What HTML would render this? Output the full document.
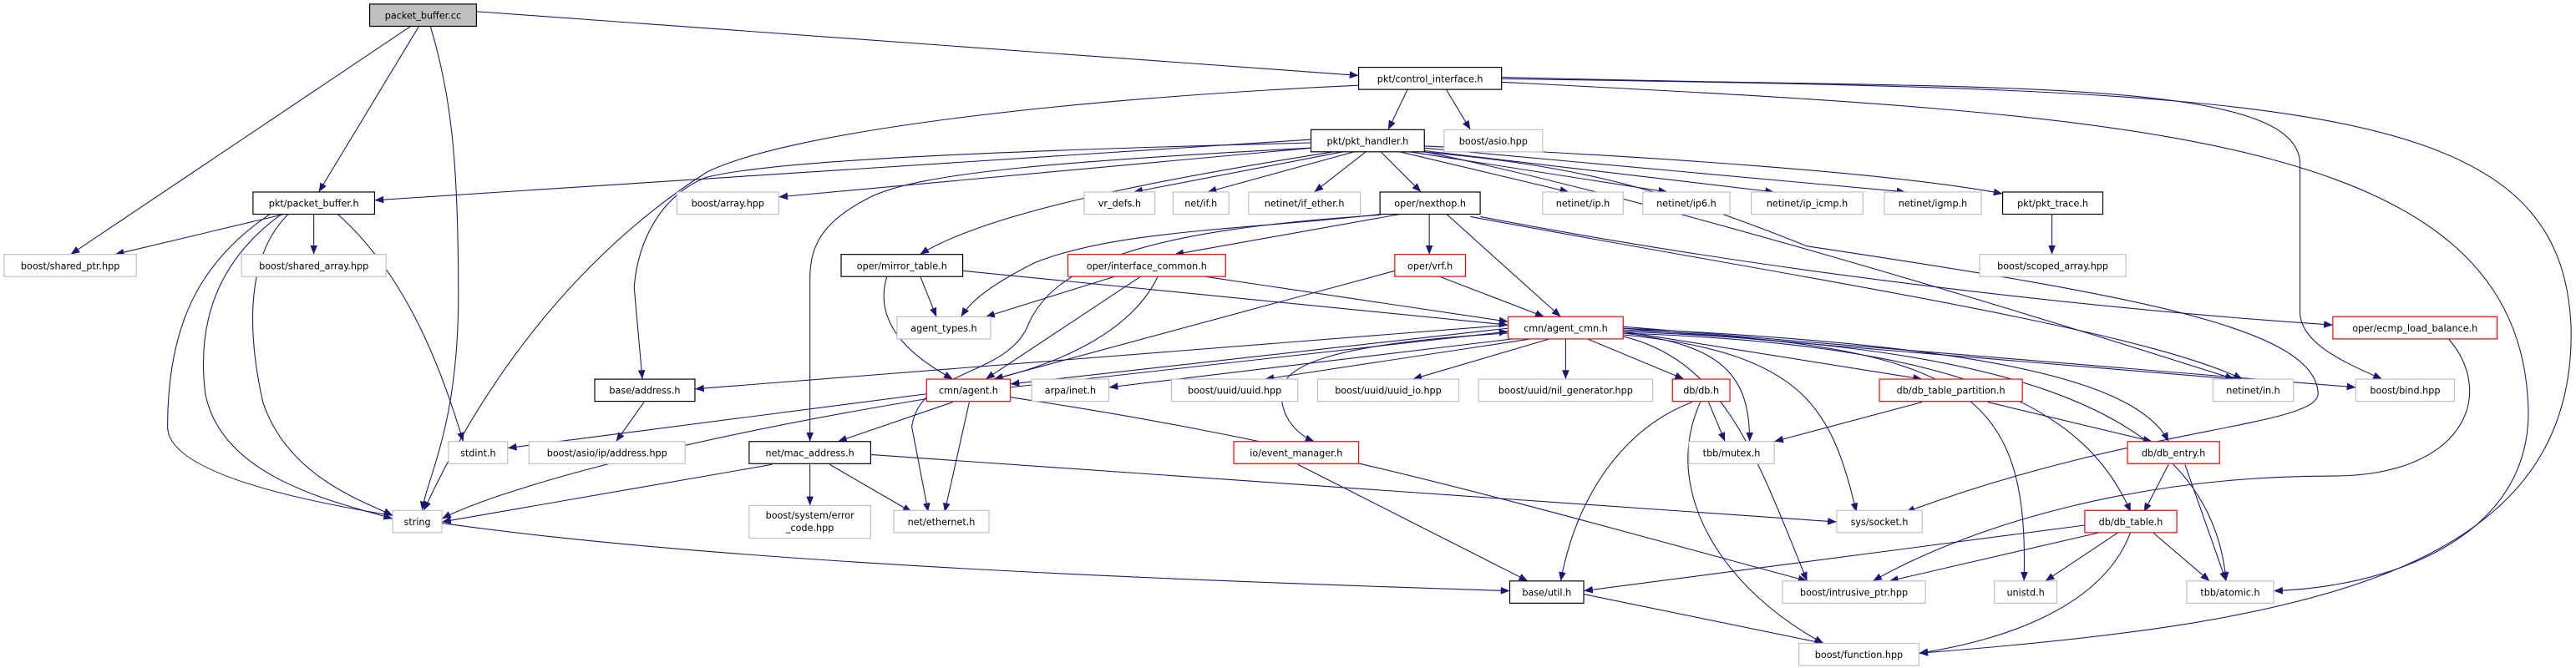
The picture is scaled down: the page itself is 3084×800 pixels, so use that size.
<!DOCTYPE html>
<html><head><meta charset="utf-8"><style>
html,body{margin:0;padding:0;background:#fff;width:3084px;height:800px;overflow:hidden}
svg{display:block}
text{font-family:"DejaVu Sans","Liberation Sans",sans-serif;font-size:5.7px;fill:#000;text-anchor:middle}
.g{fill:#fff;stroke:#bfbfbf;stroke-width:0.6}
.b{fill:#fff;stroke:#000;stroke-width:0.6}
.r{fill:#fff;stroke:#ff0000;stroke-width:0.6}
.e path{fill:none;stroke:#191970;stroke-width:0.55}
</style></head><body>
<svg width="3084" height="800" viewBox="0 0 1568 407" preserveAspectRatio="none">
<defs><marker id="a" markerWidth="5.5" markerHeight="4.4" refX="5.5" refY="2.2" orient="auto" markerUnits="userSpaceOnUse"><path d="M0,0 L5.5,2.2 L0,4.4z" fill="#191970"/></marker></defs>
<g class="e">
<path marker-end="url(#a)" d="M290,7 L827,46"/>
<path marker-end="url(#a)" d="M250,16 L43,155"/>
<path marker-end="url(#a)" d="M255,16 L194,117"/>
<path marker-end="url(#a)" d="M262,16 C275,60 279,100 279,180 C279,260 260,290 257,311"/>
<path marker-end="url(#a)" d="M857,54 L845,79"/>
<path marker-end="url(#a)" d="M880,54 L895,79"/>
<path marker-end="url(#a)" d="M827,52 C650,60 480,80 430,105 C360,150 300,220 258,311"/>
<path marker-end="url(#a)" d="M914,48 C1400,55 1560,60 1565,200 C1568,350 1400,380 1168,398"/>
<path marker-end="url(#a)" d="M914,47 C1200,55 1400,45 1400,100 L1400,190 C1400,210 1430,222 1450,231"/>
<path marker-end="url(#a)" d="M914,50 C1300,70 1535,80 1539,250 C1540,330 1450,358 1384,360"/>
<path marker-end="url(#a)" d="M798,85 L228,122"/>
<path marker-end="url(#a)" d="M800,90 L474,120"/>
<path marker-end="url(#a)" d="M798,87 C600,92 470,98 430,108 C400,120 388,150 386,175 L391,231"/>
<path marker-end="url(#a)" d="M800,90 C650,98 560,105 530,120 C500,135 493,150 493,170 L493,269"/>
<path marker-end="url(#a)" d="M815,92 C700,110 600,130 560,155"/>
<path marker-end="url(#a)" d="M820,92 L690,117"/>
<path marker-end="url(#a)" d="M826,92 L735,117"/>
<path marker-end="url(#a)" d="M832,92 L800,117"/>
<path marker-end="url(#a)" d="M840,92 L865,117"/>
<path marker-end="url(#a)" d="M850,92 L955,117"/>
<path marker-end="url(#a)" d="M855,92 L1015,117"/>
<path marker-end="url(#a)" d="M860,91 L1080,117"/>
<path marker-end="url(#a)" d="M865,90 L1160,117"/>
<path marker-end="url(#a)" d="M867,89 C1000,95 1150,105 1219,118"/>
<path marker-end="url(#a)" d="M860,92 C950,100 1000,110 1100,150 C1300,180 1410,200 1411,240 C1410,260 1300,260 1160,312"/>
<path marker-end="url(#a)" d="M865,92 C1000,120 1200,180 1360,231"/>
<path marker-end="url(#a)" d="M175,130 L70,155"/>
<path marker-end="url(#a)" d="M191,130 L191,155"/>
<path marker-end="url(#a)" d="M172,130 C130,160 120,200 125,240 C135,290 200,305 239,316"/>
<path marker-end="url(#a)" d="M176,130 C150,155 150,200 160,245 C175,290 220,305 239,314"/>
<path marker-end="url(#a)" d="M205,130 C250,170 270,230 282,269"/>
<path marker-end="url(#a)" d="M165,130 C120,160 102,200 102,260 C102,330 600,350 919,360"/>
<path marker-end="url(#a)" d="M1249,130 L1249,155"/>
<path marker-end="url(#a)" d="M855,130 L715,155"/>
<path marker-end="url(#a)" d="M870,130 L870,155"/>
<path marker-end="url(#a)" d="M880,130 L950,193"/>
<path marker-end="url(#a)" d="M845,130 C760,140 680,140 630,160 C600,175 590,185 585,193"/>
<path marker-end="url(#a)" d="M840,131 C700,140 640,160 625,200 C610,230 560,225 555,260 L565,312"/>
<path marker-end="url(#a)" d="M901,132 C1100,170 1300,190 1420,198"/>
<path marker-end="url(#a)" d="M895,132 C1100,170 1300,200 1365,231"/>
<path marker-end="url(#a)" d="M560,168 L570,193"/>
<path marker-end="url(#a)" d="M540,168 C530,200 560,220 580,231"/>
<path marker-end="url(#a)" d="M586,165 L918,198"/>
<path marker-end="url(#a)" d="M680,168 L600,193"/>
<path marker-end="url(#a)" d="M695,168 L600,231"/>
<path marker-end="url(#a)" d="M705,168 C690,200 650,220 605,231"/>
<path marker-end="url(#a)" d="M730,168 L918,196"/>
<path marker-end="url(#a)" d="M875,168 L940,193"/>
<path marker-end="url(#a)" d="M849,165 L605,231"/>
<path marker-end="url(#a)" d="M918,200 L615,234"/>
<path marker-end="url(#a)" d="M925,206 L675,236"/>
<path marker-end="url(#a)" d="M935,206 L770,231"/>
<path marker-end="url(#a)" d="M945,206 L860,231"/>
<path marker-end="url(#a)" d="M953,206 L953,231"/>
<path marker-end="url(#a)" d="M965,206 L1025,231"/>
<path marker-end="url(#a)" d="M918,198 L423,237"/>
<path marker-end="url(#a)" d="M918,203 C800,210 780,225 780,240 C780,255 790,265 800,269"/>
<path marker-end="url(#a)" d="M988,202 L1170,231"/>
<path marker-end="url(#a)" d="M988,200 L1360,231"/>
<path marker-end="url(#a)" d="M988,199 L1434,236"/>
<path marker-end="url(#a)" d="M988,203 C1050,210 1065,230 1065,269"/>
<path marker-end="url(#a)" d="M988,204 C1100,215 1115,250 1130,312"/>
<path marker-end="url(#a)" d="M988,205 C1050,220 1070,280 1100,354"/>
<path marker-end="url(#a)" d="M988,201 C1200,210 1235,240 1232,354"/>
<path marker-end="url(#a)" d="M988,200 C1200,210 1300,230 1320,269"/>
<path marker-end="url(#a)" d="M988,203 C1200,210 1270,250 1297,312"/>
<path marker-end="url(#a)" d="M988,202 C1200,210 1345,240 1355,354"/>
<path marker-end="url(#a)" d="M615,236 L918,202"/>
<path marker-end="url(#a)" d="M564,240 L309,273"/>
<path marker-end="url(#a)" d="M564,243 C400,270 300,300 269,316"/>
<path marker-end="url(#a)" d="M580,245 L510,269"/>
<path marker-end="url(#a)" d="M590,245 L575,312"/>
<path marker-end="url(#a)" d="M615,242 C800,270 900,300 1100,354"/>
<path marker-end="url(#a)" d="M392,245 L375,269"/>
<path marker-end="url(#a)" d="M470,283 L269,318"/>
<path marker-end="url(#a)" d="M493,283 L493,308"/>
<path marker-end="url(#a)" d="M505,283 L555,312"/>
<path marker-end="url(#a)" d="M530,277 L1118,318"/>
<path marker-end="url(#a)" d="M790,283 L930,354"/>
<path marker-end="url(#a)" d="M1040,245 L1050,269"/>
<path marker-end="url(#a)" d="M1030,245 C990,260 960,300 950,354"/>
<path marker-end="url(#a)" d="M1035,245 C1010,300 1050,360 1110,392"/>
<path marker-end="url(#a)" d="M1170,245 L1080,269"/>
<path marker-end="url(#a)" d="M1210,245 L1310,269"/>
<path marker-end="url(#a)" d="M1320,283 L1305,312"/>
<path marker-end="url(#a)" d="M1330,283 L1355,354"/>
<path marker-end="url(#a)" d="M1269,320 L964,360"/>
<path marker-end="url(#a)" d="M1280,324 L1150,354"/>
<path marker-end="url(#a)" d="M1290,324 L1245,354"/>
<path marker-end="url(#a)" d="M1310,324 L1345,354"/>
<path marker-end="url(#a)" d="M1297,324 C1280,370 1220,390 1168,398"/>
<path marker-end="url(#a)" d="M964,362 L1110,392"/>
<path marker-end="url(#a)" d="M1490,206 C1520,240 1500,290 1420,290 C1300,290 1200,320 1140,354"/>
</g>
<g>
<rect x="225" y="2.5" width="65" height="13.5" fill="#bfbfbf" stroke="#000" stroke-width="0.6"/><text x="257.5" y="11.5">packet_buffer.cc</text>
<rect class="b" x="827" y="41" width="87" height="13.5"/><text x="870.5" y="50">pkt/control_interface.h</text>
<rect class="b" x="798" y="79" width="69" height="13.5"/><text x="832.5" y="88">pkt/pkt_handler.h</text>
<rect class="g" x="879" y="79" width="60" height="13.5"/><text x="909" y="88">boost/asio.hpp</text>

<rect class="b" x="154" y="117" width="74" height="13.5"/><text x="191" y="126">pkt/packet_buffer.h</text>
<rect class="g" x="412" y="117" width="62" height="13.5"/><text x="443" y="126">boost/array.hpp</text>
<rect class="g" x="660" y="117" width="43" height="13.5"/><text x="681.5" y="126">vr_defs.h</text>
<rect class="g" x="714" y="117" width="34" height="13.5"/><text x="731" y="126">net/if.h</text>
<rect class="g" x="760" y="117" width="68" height="13.5"/><text x="794" y="126">netinet/if_ether.h</text>
<rect class="b" x="840" y="117" width="61" height="13.5"/><text x="870.5" y="126">oper/nexthop.h</text>
<rect class="g" x="939" y="117" width="49" height="13.5"/><text x="963.5" y="126">netinet/ip.h</text>
<rect class="g" x="1000" y="117" width="53" height="13.5"/><text x="1026.5" y="126">netinet/ip6.h</text>
<rect class="g" x="1066" y="117" width="68" height="13.5"/><text x="1100" y="126">netinet/ip_icmp.h</text>
<rect class="g" x="1147" y="117" width="59" height="13.5"/><text x="1176.5" y="126">netinet/igmp.h</text>
<rect class="b" x="1219" y="117" width="61" height="13.5"/><text x="1249.5" y="126">pkt/pkt_trace.h</text>

<rect class="g" x="2.5" y="155" width="80.5" height="13.5"/><text x="42.75" y="164">boost/shared_ptr.hpp</text>
<rect class="g" x="147" y="155" width="88" height="13.5"/><text x="191" y="164">boost/shared_array.hpp</text>
<rect class="b" x="512" y="155" width="74" height="13.5"/><text x="549" y="164">oper/mirror_table.h</text>
<rect class="r" x="650" y="155" width="96" height="13.5"/><text x="698" y="164">oper/interface_common.h</text>
<rect class="r" x="849" y="155" width="43" height="13.5"/><text x="870.5" y="164">oper/vrf.h</text>
<rect class="g" x="1205" y="155" width="89" height="13.5"/><text x="1249.5" y="164">boost/scoped_array.hpp</text>

<rect class="g" x="546" y="193" width="57" height="13.5"/><text x="574.5" y="202">agent_types.h</text>
<rect class="r" x="918" y="193" width="70" height="13.5"/><text x="953" y="202">cmn/agent_cmn.h</text>
<rect class="r" x="1420" y="193" width="100" height="13.5"/><text x="1470" y="202">oper/ecmp_load_balance.h</text>

<rect class="b" x="362" y="231" width="61" height="13.5"/><text x="392.5" y="240">base/address.h</text>
<rect class="r" x="564" y="231" width="51" height="13.5"/><text x="589.5" y="240">cmn/agent.h</text>
<rect class="g" x="628" y="231" width="47" height="13.5"/><text x="651.5" y="240">arpa/inet.h</text>
<rect class="g" x="713" y="231" width="77" height="13.5"/><text x="751.5" y="240">boost/uuid/uuid.hpp</text>
<rect class="g" x="802" y="231" width="86" height="13.5"/><text x="845" y="240">boost/uuid/uuid_io.hpp</text>
<rect class="g" x="900" y="231" width="106" height="13.5"/><text x="953" y="240">boost/uuid/nil_generator.hpp</text>
<rect class="r" x="1018" y="231" width="35" height="13.5"/><text x="1035.5" y="240">db/db.h</text>
<rect class="r" x="1144" y="231" width="87" height="13.5"/><text x="1187.5" y="240">db/db_table_partition.h</text>
<rect class="g" x="1347" y="231" width="49" height="13.5"/><text x="1371.5" y="240">netinet/in.h</text>
<rect class="g" x="1434" y="231" width="60" height="13.5"/><text x="1464" y="240">boost/bind.hpp</text>

<rect class="g" x="273" y="269" width="36" height="13.5"/><text x="291" y="278">stdint.h</text>
<rect class="g" x="322" y="269" width="95" height="13.5"/><text x="369.5" y="278">boost/asio/ip/address.hpp</text>
<rect class="b" x="456" y="269" width="74" height="13.5"/><text x="493" y="278">net/mac_address.h</text>
<rect class="r" x="751" y="269" width="76" height="13.5"/><text x="789" y="278">io/event_manager.h</text>
<rect class="g" x="1028" y="269" width="52" height="13.5"/><text x="1054" y="278">tbb/mutex.h</text>
<rect class="r" x="1295" y="269" width="56" height="13.5"/><text x="1323" y="278">db/db_entry.h</text>

<rect class="g" x="239" y="311" width="30" height="13.5"/><text x="254" y="320">string</text>
<rect class="g" x="456" y="308" width="74" height="20"/><text x="493" y="316">boost/system/error</text><text x="493" y="323.5">_code.hpp</text>
<rect class="g" x="544" y="311" width="58" height="13.5"/><text x="573" y="320">net/ethernet.h</text>
<rect class="g" x="1118" y="311" width="52" height="13.5"/><text x="1144" y="320">sys/socket.h</text>
<rect class="r" x="1269" y="311" width="56" height="13.5"/><text x="1297" y="320">db/db_table.h</text>

<rect class="b" x="919" y="354" width="45" height="13.5"/><text x="941.5" y="363">base/util.h</text>
<rect class="g" x="1085" y="354" width="87" height="13.5"/><text x="1128.5" y="363">boost/intrusive_ptr.hpp</text>
<rect class="g" x="1214" y="354" width="38" height="13.5"/><text x="1233" y="363">unistd.h</text>
<rect class="g" x="1331" y="354" width="53" height="13.5"/><text x="1357.5" y="363">tbb/atomic.h</text>

<rect class="g" x="1095" y="392" width="73" height="13.5"/><text x="1131.5" y="401">boost/function.hpp</text>
</g>
</svg>
</body></html>
